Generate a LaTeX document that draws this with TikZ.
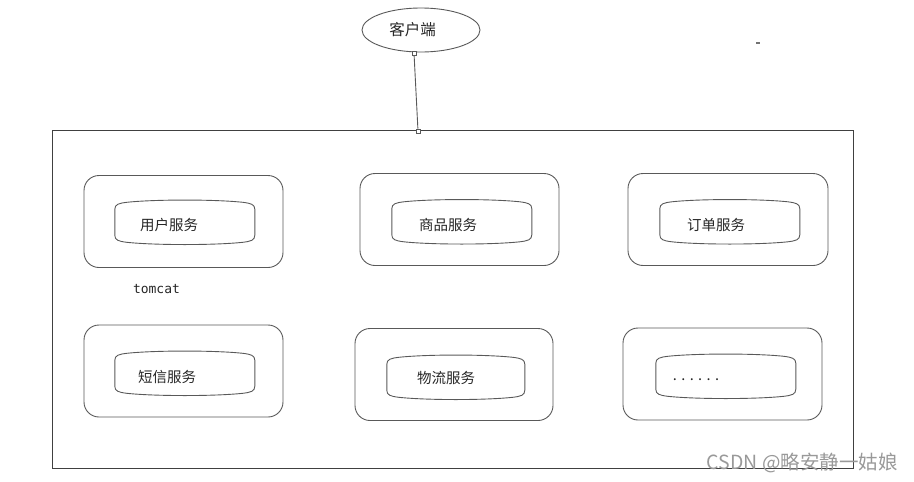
\documentclass[tikz,border=0pt]{standalone}
\usepackage{fontspec}
\newfontfamily\cjk{Noto Sans CJK SC}
\setmonofont{DejaVu Sans Mono}
\usetikzlibrary{shapes.geometric}
\begin{document}
\begin{tikzpicture}[x=1pt,y=-1pt,
  line/.style={draw=black!65, line width=0.9pt},
  outerbox/.style={line, rounded corners=15pt, minimum width=199pt, minimum height=92pt, inner sep=0pt},
  innerbox/.style={minimum width=140pt, minimum height=46pt, inner sep=0pt},
  lbl/.style={font=\cjk\fontsize{14.5}{15}\selectfont, text=black!85, inner sep=0pt},
  pin/.style={draw=black!65, fill=white, line width=0.6pt, minimum size=4pt, inner sep=0pt}]
\useasboundingbox (0,0) rectangle (914,482);
% client
\node[ellipse, line, minimum width=118pt, minimum height=44pt, inner sep=0pt] (client) at (421,30) {};
\node[lbl, font=\cjk\fontsize{15.5}{16}\selectfont] (tclient) at (412.5,30) {客户端};
% container
\node[draw=black!75, line width=0.9pt, minimum width=801pt, minimum height=338pt, inner sep=0pt, anchor=north west] (main) at (52,130) {};
\node[pin] (p1) at (414,53) {};
\node[pin] (p2) at (418,131) {};
\draw[line] (p1) -- (p2);
% service boxes
\node[outerbox] (o1) at (183.5,221.5) {};
\node[outerbox] (o2) at (459.5,219.5) {};
\node[outerbox, minimum width=200pt] (o3) at (728,219.5) {};
\node[outerbox] (o4) at (183.5,371) {};
\node[outerbox, minimum width=198pt] (o5) at (454,374.5) {};
\node[outerbox] (o6) at (722.5,374) {};
\node[innerbox] (i1) at (185,222.5) {};
\node[innerbox] (i2) at (462,222) {};
\node[innerbox] (i3) at (730,222) {};
\node[innerbox] (i4) at (185,373.5) {};
\node[innerbox, minimum width=138pt] (i5) at (456,377.5) {};
\node[innerbox] (i6) at (726,376.5) {};
\foreach \n/\w/\h in {i1/140/46, i2/140/46, i3/140/46, i4/140/46, i5/138/46, i6/140/46}{
  \draw[line, shift={(\n.north west)}]
    (0,10) .. controls (0,5) and (4,4) .. (12,3)
    .. controls (40,0) and (\w-40,0) .. (\w-12,3)
    .. controls (\w-4,4) and (\w,5) .. (\w,10)
    -- (\w,\h-10)
    .. controls (\w,\h-5) and (\w-4,\h-4) .. (\w-12,\h-3)
    .. controls (\w-40,\h) and (40,\h) .. (12,\h-3)
    .. controls (4,\h-4) and (0,\h-5) .. (0,\h-10) -- cycle;
}
\node[lbl] (t1) at (169,225) {用户服务};
\node[lbl] (t2) at (448,225) {商品服务};
\node[lbl] (t3) at (716,225) {订单服务};
\node[lbl] (t4) at (167,377) {短信服务};
\node[lbl] (t5) at (446,378) {物流服务};
\node[lbl] (t6) at (696,380) {.\kern4.4pt.\kern4.4pt.\kern4.4pt.\kern4.4pt.\kern4.4pt.};
\node[font=\ttfamily\fontsize{13}{14}\selectfont, text=black!85, inner sep=0pt] (tomcat) at (156.5,289) {tomcat};
\node[fill=black!55, minimum width=4pt, minimum height=2.5pt, inner sep=0pt] (dash) at (758,43) {};
\node[font=\cjk\fontsize{19.5}{20}\selectfont, text=black!40, inner sep=0pt, anchor=east] (wm) at (898,463) {CSDN @略安静一姑娘};
\end{tikzpicture}
\end{document}
